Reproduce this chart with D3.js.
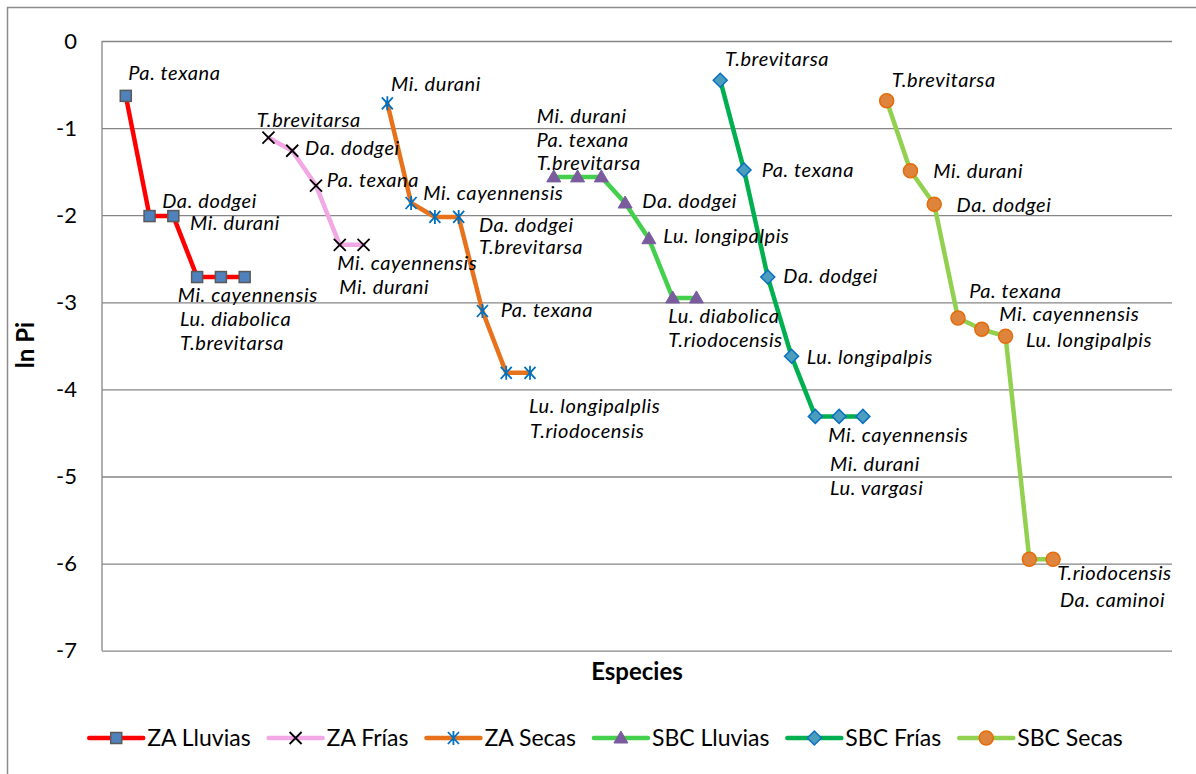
<!DOCTYPE html>
<html>
<head>
<meta charset="utf-8">
<script src="https://cdn.jsdelivr.net/npm/d3@7"></script>
<style>
  html, body { margin: 0; padding: 0; background: #fff; }
  svg { display: block; }
  text { font-family: "Lato", "Open Sans", "Liberation Sans", sans-serif; fill: #000; }
</style>
</head>
<body>
<svg id="chart" width="1196" height="774"></svg>
<script>
// ---- data -------------------------------------------------------------
const seriesNames = ["ZA Lluvias", "ZA Frías", "ZA Secas", "SBC Lluvias", "SBC Frías", "SBC Secas"];

const zaLluvias  = [-0.63, -2.01, -2.01, -2.71, -2.71, -2.71];
const zaFrias    = [-1.11, -1.26, -1.66, -2.34, -2.34];
const zaSecas    = [-0.715, -1.86, -2.02, -2.02, -3.10, -3.81, -3.81];
const sbcLluvias = [-1.56, -1.56, -1.56, -1.86, -2.27, -2.95, -2.95];
const sbcFrias   = [-0.45, -1.48, -2.71, -3.62, -4.31, -4.31, -4.31];
const sbcSecas   = [-0.685, -1.49, -1.875, -3.18, -3.31, -3.39, -5.95, -5.95];

const zaLluviasSpp  = ["Pa. texana", "Da. dodgei", "Mi. durani", "Mi. cayennensis", "Lu. diabolica", "T.brevitarsa"];
const zaFriasSpp    = ["T.brevitarsa", "Da. dodgei", "Pa. texana", "Mi. cayennensis", "Mi. durani"];
const zaSecasSpp    = ["Mi. durani", "Mi. cayennensis", "Da. dodgei", "T.brevitarsa", "Pa. texana", "Lu. longipalplis", "T.riodocensis"];
const sbcLluviasSpp = ["Mi. durani", "Pa. texana", "T.brevitarsa", "Da. dodgei", "Lu. longipalpis", "Lu. diabolica", "T.riodocensis"];
const sbcFriasSpp   = ["T.brevitarsa", "Pa. texana", "Da. dodgei", "Lu. longipalpis", "Mi. cayennensis", "Mi. durani", "Lu. vargasi"];
const sbcSecasSpp   = ["T.brevitarsa", "Mi. durani", "Da. dodgei", "Pa. texana", "Mi. cayennensis", "Lu. longipalpis", "T.riodocensis", "Da. caminoi"];

const yTicks = [0, -1, -2, -3, -4, -5, -6, -7];
const categorySlots = 45;   // species slots along the x axis
const xTitle = "Especies";
const yTitle = "ln Pi";

// ---- styles -----------------------------------------------------------
const styles = [
  { line: "#ff0000", marker: "square",   fill: "#4f81bd", stroke: "#5a5a5a" },
  { line: "#f2a8e4", marker: "x",        fill: "none",    stroke: "#000000" },
  { line: "#e8711b", marker: "star",     fill: "none",    stroke: "#0070c0" },
  { line: "#44d04c", marker: "triangle", fill: "#7a5c9e", stroke: "#7a5c9e" },
  { line: "#00b050", marker: "diamond",  fill: "#4a9dbd", stroke: "#0a70c0" },
  { line: "#92d050", marker: "circle",   fill: "#df843d", stroke: "#e46c0a" }
];
const labelSize = 20;
const labelSpacing = 0.6;
const legendSize = 23;
const tickSize = 22;
const titleSize = 24;

// label offsets (px) from each point: [dx, baseline dy]
const labelOffsets = [
  [[2.5, -16], [12.7, -8], [16.7, 14], [-19.4, 25], [-41, 49], [-64.7, 73]],
  [[-11.7, -10.7], [12.8, 4.3], [10.7, 1], [-2.5, 25], [-24.3, 49]],
  [[3.7, -12], [12.2, -3], [44, 15], [20.3, 37], [18.3, 6.3], [22.8, 40], [0, 65]],
  [[-17, -54], [-41, -30], [-64.7, -6.5], [17.2, 5.3], [14.4, 4.6], [-4.4, 25.3], [-28.2, 49]],
  [[4.8, -14], [17.7, 6.8], [15.5, 6.3], [15.1, 7.7], [12.9, 25.3], [-9.1, 54.3], [-32.9, 78.6]],
  [[5, -14], [22.8, 7.5], [22.4, 7.4], [11.2, -19.7], [17.5, -8.6], [20.4, 10.4], [27.9, 20.8], [6.8, 48]]
];

// ---- build series (consecutive species slots) -------------------------
const valueSets = [zaLluvias, zaFrias, zaSecas, sbcLluvias, sbcFrias, sbcSecas];
const sppSets = [zaLluviasSpp, zaFriasSpp, zaSecasSpp, sbcLluviasSpp, sbcFriasSpp, sbcSecasSpp];
let slot = 1;
const series = seriesNames.map((name, s) => {
  const pts = valueSets[s].map((v, i) => ({ idx: slot + i, v, sp: sppSets[s][i], off: labelOffsets[s][i] }));
  slot += valueSets[s].length;
  return { name, pts, style: styles[s] };
});

// ---- layout -----------------------------------------------------------
const svg = d3.select("#chart");
const plot = { left: 102, right: 1172, top: 41, bottom: 650.7 };

const x = d3.scaleLinear().domain([0, categorySlots]).range([plot.left, plot.right]);
const y = d3.scaleLinear().domain([0, -7]).range([plot.top, plot.bottom]);

// chart frame
svg.append("rect")
  .attr("x", 7.5).attr("y", 7.5).attr("width", 1210).attr("height", 790)
  .attr("fill", "#fff").attr("stroke", "#8c8c8c").attr("stroke-width", 1.5);

// horizontal gridlines + y labels via axis
const yAxis = d3.axisLeft(y).tickValues(yTicks).tickSize(-(plot.right - plot.left)).tickPadding(25)
  .tickFormat(d => d === 0 ? "0" : "-" + Math.abs(d));
const yg = svg.append("g").attr("transform", `translate(${plot.left},0)`).call(yAxis);
yg.select(".domain").remove();
yg.selectAll(".tick line").attr("stroke", "#868686").attr("stroke-width", 1.3);
yg.selectAll(".tick text")
  .attr("font-size", tickSize).attr("fill", "#000")
  .style("font-family", '"Lato", "Open Sans", sans-serif');

// left axis line
svg.append("line")
  .attr("x1", plot.left).attr("x2", plot.left)
  .attr("y1", plot.top).attr("y2", plot.bottom)
  .attr("stroke", "#868686").attr("stroke-width", 1.3);

// axis titles
svg.append("text")
  .attr("x", (plot.left + plot.right) / 2).attr("y", 680)
  .attr("text-anchor", "middle").attr("font-size", titleSize).attr("font-weight", "bold")
  .text(xTitle);
svg.append("text")
  .attr("transform", "translate(34,345) rotate(-90)")
  .attr("text-anchor", "middle").attr("font-size", titleSize).attr("font-weight", "bold")
  .text(yTitle);

// ---- markers ----------------------------------------------------------
function drawMarker(g, type, st) {
  switch (type) {
    case "square":
      g.append("rect").attr("x", -5.5).attr("y", -5.5).attr("width", 11).attr("height", 11)
        .attr("fill", st.fill).attr("stroke", st.stroke).attr("stroke-width", 1.5);
      break;
    case "x":
      g.append("path").attr("d", "M-6,-6L6,6M-6,6L6,-6")
        .attr("stroke", st.stroke).attr("stroke-width", 1.8).attr("fill", "none");
      break;
    case "star":
      g.append("path").attr("d", "M-5.5,-6L5.5,6M-5.5,6L5.5,-6M0,-7L0,7")
        .attr("stroke", st.stroke).attr("stroke-width", 1.8).attr("fill", "none");
      break;
    case "triangle":
      g.append("path").attr("d", "M0,-7L7,5L-7,5Z")
        .attr("fill", st.fill).attr("stroke", st.stroke).attr("stroke-width", 1);
      break;
    case "diamond":
      g.append("path").attr("d", "M0,-7L7,0L0,7L-7,0Z")
        .attr("fill", st.fill).attr("stroke", st.stroke).attr("stroke-width", 1.5);
      break;
    case "circle":
      g.append("circle").attr("r", 7)
        .attr("fill", st.fill).attr("stroke", st.stroke).attr("stroke-width", 1.5);
      break;
  }
}

// ---- series lines -----------------------------------------------------
const line = d3.line().x(d => x(d.idx)).y(d => y(d.v));

const sg = svg.append("g");
series.forEach(s => {
  sg.append("path").datum(s.pts)
    .attr("d", line).attr("fill", "none")
    .attr("stroke", s.style.line).attr("stroke-width", 4.5)
    .attr("stroke-linejoin", "round").attr("stroke-linecap", "round");
});
series.forEach(s => {
  s.pts.forEach(p => {
    const g = sg.append("g").attr("transform", `translate(${x(p.idx)},${y(p.v)})`);
    drawMarker(g, s.style.marker, s.style);
  });
});

// species labels
const lg = svg.append("g");
series.forEach(s => {
  s.pts.forEach(p => {
    lg.append("text")
      .attr("x", x(p.idx) + p.off[0]).attr("y", y(p.v) + p.off[1])
      .attr("font-size", labelSize).attr("font-style", "italic")
      .attr("letter-spacing", labelSpacing)
      .text(p.sp);
  });
});

// ---- legend -----------------------------------------------------------
const leg = svg.append("g");
const legendY = 738;
const items = [];
let cx = 0;
series.forEach(s => {
  const it = leg.append("g");
  it.append("line").attr("x1", 0).attr("x2", 54).attr("y1", 0).attr("y2", 0)
    .attr("stroke", s.style.line).attr("stroke-width", 4.5).attr("stroke-linecap", "round");
  drawMarker(it.append("g").attr("transform", "translate(27,0)"), s.style.marker, s.style);
  const t = it.append("text").attr("x", 58).attr("y", 8).attr("font-size", legendSize).text(s.name);
  const w = 58 + t.node().getComputedTextLength();
  items.push({ it, x: cx });
  cx += w + 18;
});
const totalW = cx - 18;
const legStart = 606 - totalW / 2;
items.forEach(d => d.it.attr("transform", `translate(${legStart + d.x},${legendY})`));
</script>
</body>
</html>
